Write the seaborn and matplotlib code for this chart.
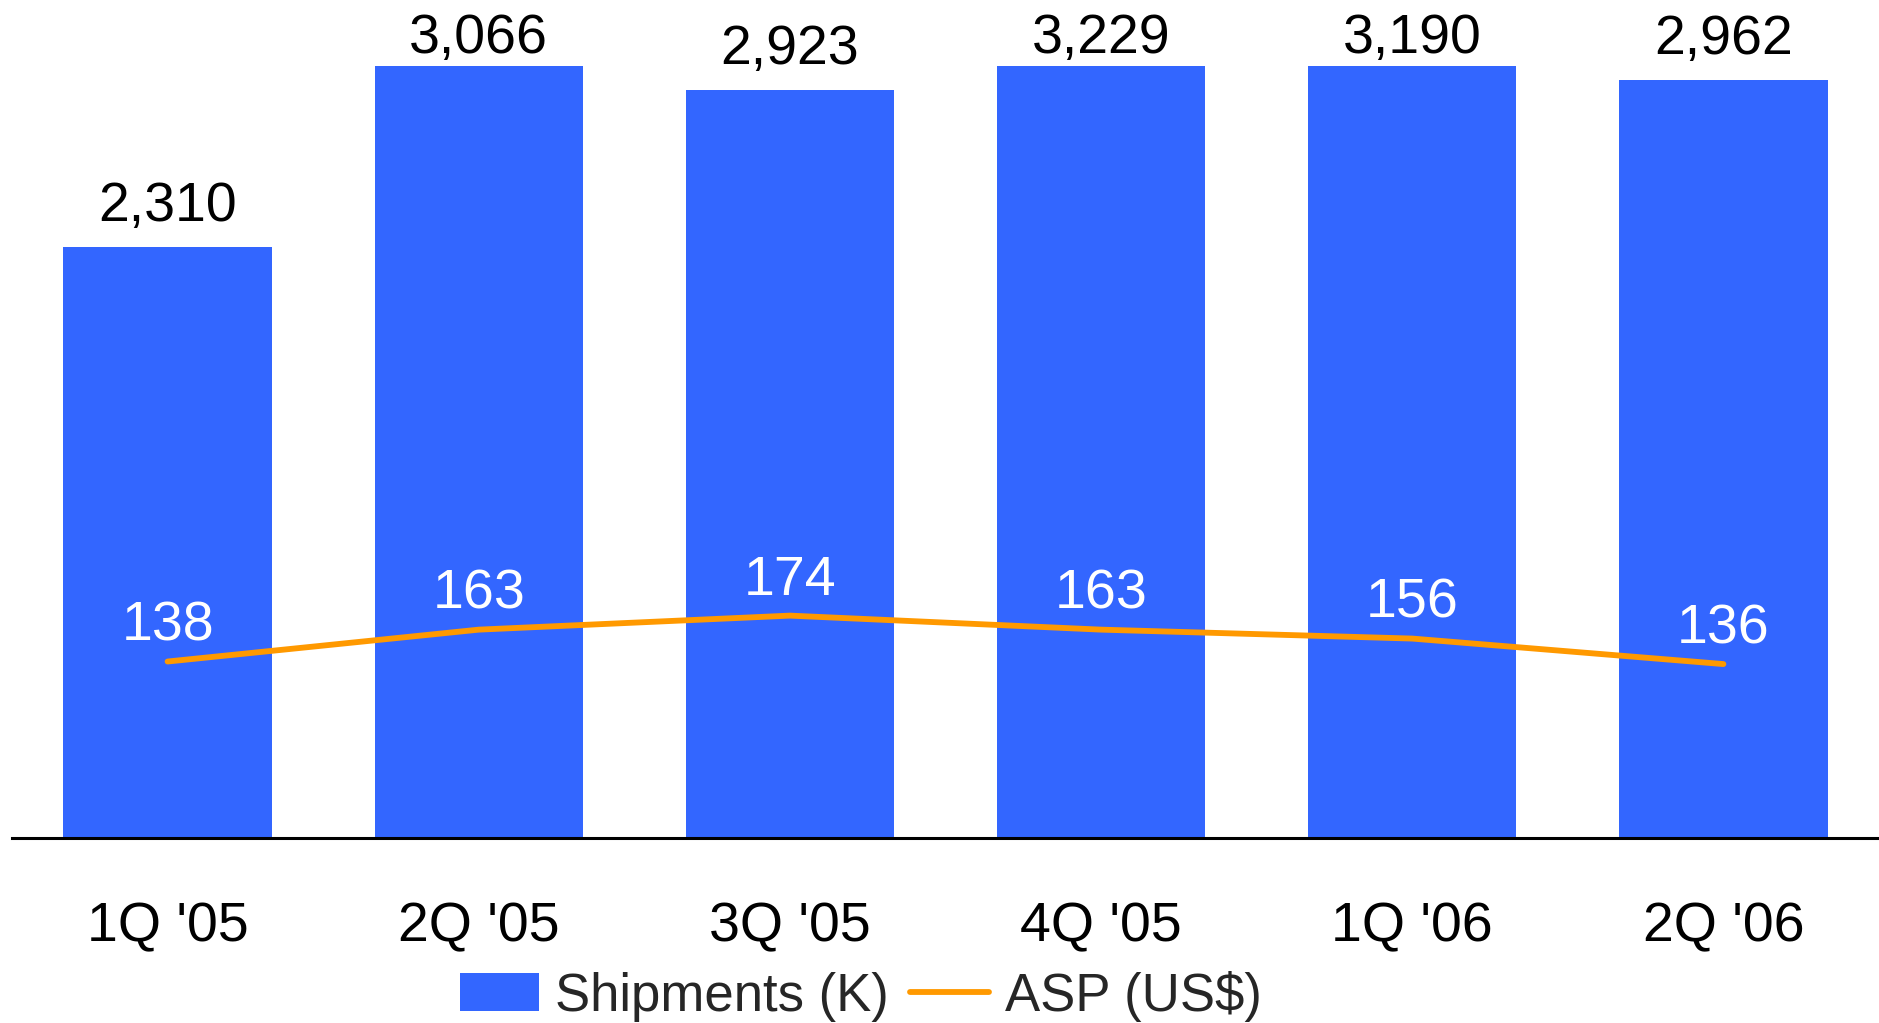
import numpy as np
import pandas as pd
import matplotlib
matplotlib.use("Agg")
import matplotlib.pyplot as plt
import seaborn as sns
from matplotlib.patches import Patch
from matplotlib.lines import Line2D

quarters = ["1Q '05", "2Q '05", "3Q '05", "4Q '05", "1Q '06", "2Q '06"]
shipments = [2310, 3066, 2923, 3229, 3190, 2962]
asp = [138, 163, 174, 163, 156, 136]

BLUE = "#3366FF"
ORANGE = "#FF9900"
FS = 40
LEG_FS = 38

sns.set_theme(style="white")
plt.rcParams["font.family"] = ["Liberation Sans", "DejaVu Sans"]

fig = plt.figure(figsize=(18.79, 10.23), dpi=100)
ax = fig.add_axes([12 / 1879, 1 - 837.5 / 1023, 1 - 12 / 1879, (837.5 - 66) / 1023])

df = pd.DataFrame({"quarter": quarters, "shipments": shipments, "asp": asp})
sns.barplot(data=df, x="quarter", y="shipments", color=BLUE, saturation=1,
            width=0.67, ax=ax, edgecolor="none")
ax.set_xlim(-0.5, len(quarters) - 0.5)
ytop = 3017
ax.set_ylim(0, ytop)

for i, v in enumerate(shipments):
    off = 9.5 if v > ytop else 18.5
    ax.annotate(f"{v:,}", xy=(i, min(v, ytop)), xytext=(0, off), textcoords="offset points",
                ha="center", va="baseline", fontsize=FS, color="black", annotation_clip=False)

ax2 = ax.twinx()
sns.lineplot(x=np.arange(len(quarters)), y=df["asp"], color=ORANGE, linewidth=4.2,
             ax=ax2, solid_capstyle="round", legend=False)
ax2.set_ylim(0, 605)
ax2.set_xlim(-0.5, len(quarters) - 0.5)
for i, v in enumerate(asp):
    ax2.annotate(f"{v}", xy=(i, v), xytext=(0, 15), textcoords="offset points",
                 ha="center", va="baseline", fontsize=FS, color="white")

for a in (ax, ax2):
    for s in ("top", "right", "left"):
        a.spines[s].set_visible(False)
    a.set_yticks([])
    a.set_ylabel("")
    a.set_xlabel("")
ax2.spines["bottom"].set_visible(False)
ax.spines["bottom"].set_color("black")
ax.spines["bottom"].set_linewidth(2.2)
ax.tick_params(axis="x", length=0, pad=46, labelsize=FS, colors="black")

handles = [Patch(facecolor=BLUE, edgecolor="none", label="Shipments (K)"),
           Line2D([0], [0], color=ORANGE, linewidth=4.2, solid_capstyle="round", label="ASP (US$)")]
fig.legend(handles=handles, loc="center", bbox_to_anchor=(861 / 1879, 1 - 996 / 1023),
           ncol=2, frameon=False, fontsize=LEG_FS, handlelength=1.5, handleheight=0.75,
           handletextpad=0.3, columnspacing=0.4, borderpad=0, borderaxespad=0)

fig.savefig("out.png", dpi=100)
